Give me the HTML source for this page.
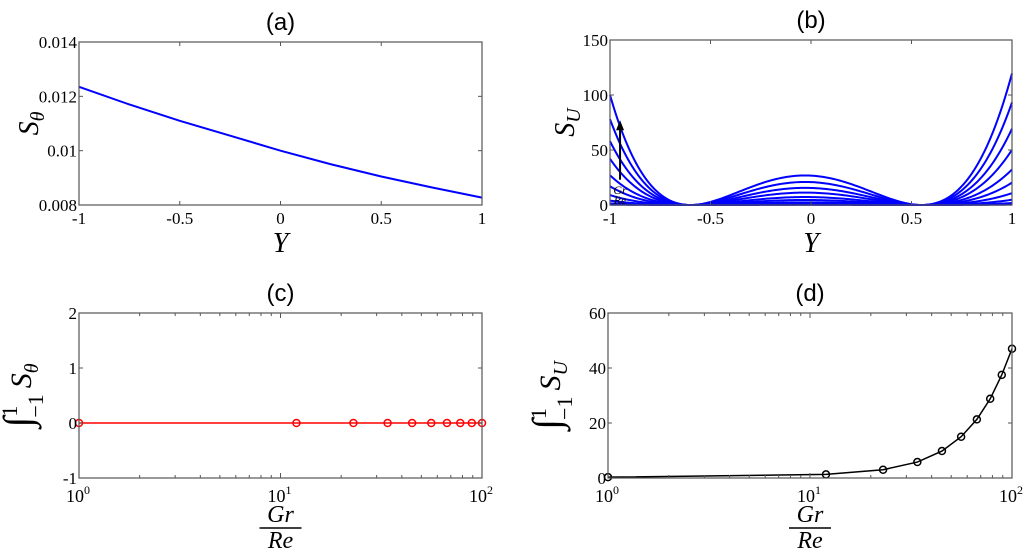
<!DOCTYPE html>
<html><head><meta charset="utf-8"><style>
html,body{margin:0;padding:0;background:#fff;}
svg{display:block;font-family:"Liberation Serif","DejaVu Serif",serif;}
svg text{font-family:"Liberation Serif","DejaVu Serif",serif;fill:#000;}
svg text.t{font-family:"Liberation Sans","DejaVu Sans",sans-serif;font-size:24px;}
svg text.tick{font-size:17px;}
svg text.lab{font-style:italic;font-size:28px;}
</style></head><body>
<svg id="fig" width="1024" height="551" viewBox="0 0 1024 551" font-family="Liberation Serif, serif"></svg>
<script>
// Panel (a) data
const aY = [-1, -0.75, -0.5, -0.25, 0, 0.25, 0.5, 0.75, 1];
const aS = [0.01235, 0.01170, 0.01110, 0.01055, 0.01000, 0.00950, 0.00905, 0.00865, 0.00827];
// Panel (b) data: curve amplitudes (value at Y=-1) for each Gr/Re
const bLeft = [100, 78, 58, 42, 27, 17, 9, 4, 1.5, 0.3];
const bRoots = [-0.6, 0.55];
// Panels (c),(d) data
const grRe = [1, 12, 23, 34, 45, 56, 67, 78, 89, 100];
const cInt = [0, 0, 0, 0, 0, 0, 0, 0, 0, 0];
const dInt = [0.3, 1.3, 3.0, 5.8, 9.8, 15, 21.3, 28.8, 37.5, 47];
const aTicksX = ['-1','-0.5','0','0.5','1'];
const aTicksY = ['0.008','0.01','0.012','0.014'];
const bTicksY = ['0','50','100','150'];
const cTicksY = ['-1','0','1','2'];
const dTicksY = ['0','20','40','60'];

const NS='http://www.w3.org/2000/svg';
const svg=document.getElementById('fig');
const SERIF='"Liberation Serif", serif';
function el(tag,attrs,parent,txt){const e=document.createElementNS(NS,tag);for(const k in attrs)e.setAttribute(k,attrs[k]);if(tag==='text'&&!attrs['font-family'])e.setAttribute('font-family',SERIF);if(txt!==undefined)e.textContent=txt;(parent||svg).appendChild(e);return e;}

function panel(name,L,R,T,B,xmin,xmax,ymin,ymax,logx){
  const g=el('g',{});
  
  
  const sx=v=>logx?L+(Math.log10(v)-Math.log10(xmin))/(Math.log10(xmax)-Math.log10(xmin))*(R-L):L+(v-xmin)/(xmax-xmin)*(R-L);
  const sy=v=>B-(v-ymin)/(ymax-ymin)*(B-T);
  return {g,sx,sy,L,R,T,B};
}
function frame(p){
  const f=el('rect',{x:p.L,y:p.T,width:p.R-p.L,height:p.B-p.T,fill:'none',stroke:'#555','stroke-width':1.2},p.g);
  
  
}
function linTicksX(p,labels){
  labels.forEach(s=>{const v=parseFloat(s),x=p.sx(v);
    el('line',{x1:x,y1:p.B,x2:x,y2:p.B-4,stroke:'#555'},p.g);el('line',{x1:x,y1:p.T,x2:x,y2:p.T+4,stroke:'#555'},p.g);
    const t=el('text',{x:x,y:p.B+19,'text-anchor':'middle',class:'tick'},p.g,s);
    
    });
}
function linTicksY(p,labels){
  labels.forEach(s=>{const v=parseFloat(s),y=p.sy(v);
    el('line',{x1:p.L,y1:y,x2:p.L+4,y2:y,stroke:'#555'},p.g);el('line',{x1:p.R,y1:y,x2:p.R-4,y2:y,stroke:'#555'},p.g);
    const t=el('text',{x:p.L-2,y:y+6,'text-anchor':'end',class:'tick'},p.g,s);
    
    });
}
function logTicksX(p){
  for(let d=0;d<2;d++)for(let k=2;k<=9;k++){const x=p.sx(k*Math.pow(10,d));
    el('line',{x1:x,y1:p.B,x2:x,y2:p.B-3,stroke:'#555'},p.g);el('line',{x1:x,y1:p.T,x2:x,y2:p.T+3,stroke:'#555'},p.g);}
  [0,1,2].forEach(e=>{const x=p.sx(Math.pow(10,e));
    el('line',{x1:x,y1:p.B,x2:x,y2:p.B-5,stroke:'#555'},p.g);el('line',{x1:x,y1:p.T,x2:x,y2:p.T+5,stroke:'#555'},p.g);
    const t=el('text',{x:x-1,y:p.B+24,'text-anchor':'middle',class:'tick',style:'font-size:18px'},p.g);
    
    
    el('tspan',{},t,'10');el('tspan',{dy:-8,style:'font-size:12px'},t,String(e));});
}
function title(p,s){const t=el('text',{x:(p.L+p.R)/2,y:p.T-12,'text-anchor':'middle',class:'t','font-family':'"Liberation Sans", sans-serif'},p.g,s);
  
  }
function fracLabel(p){
  const cx=(p.L+p.R)/2;
  const g=el('g',{},p.g);
  
  
  el('text',{x:cx,y:p.B+44,'text-anchor':'middle',class:'lab',style:'font-size:24px'},g,'Gr');
  el('line',{x1:cx-21,y1:p.B+50,x2:cx+21,y2:p.B+50,stroke:'#000','stroke-width':1.5},g);
  el('text',{x:cx,y:p.B+70,'text-anchor':'middle',class:'lab',style:'font-size:24px'},g,'Re');
}
function intLabel(p,sub){
  const x=p.L-48,y=(p.T+p.B)/2;
  const t=el('text',{transform:`translate(${x},${y}) rotate(-90)`,'text-anchor':'middle',style:'font-size:30px'},p.g);
  
  
  el('tspan',{style:'font-size:40px'},t,'∫');
  el('tspan',{dy:-14,style:'font-size:22px'},t,'1');
  el('tspan',{dx:-12,dy:26,style:'font-size:22px'},t,'−1');
  el('tspan',{dy:-12,dx:6,style:'font-style:italic'},t,'S');
  el('tspan',{dy:7,style:'font-style:italic;font-size:20px'},t,sub);
}
function sLabel(p,sub,x){
  const y=(p.T+p.B)/2;
  const t=el('text',{transform:`translate(${x},${y}) rotate(-90)`,'text-anchor':'middle',class:'lab'},p.g);
  
  
  el('tspan',{},t,'S');el('tspan',{dy:6,style:'font-size:20px'},t,sub);
}
function yLabel(p){const t=el('text',{x:(p.L+p.R)/2,y:p.B+47,'text-anchor':'middle',class:'lab'},p.g,'Y');
  
  }

// (a)
const pa=panel('panel-a',79,482,42,205,-1,1,0.008,0.014,false);
title(pa,'(a)');
const la=el('polyline',{fill:'none',stroke:'#0000ff','stroke-width':2,points:aY.map((y,i)=>pa.sx(y)+','+pa.sy(aS[i])).join(' ')},pa.g);


frame(pa);linTicksX(pa,aTicksX);linTicksY(pa,aTicksY);yLabel(pa);sLabel(pa,'θ',38);

// (b)
const pb=panel('panel-b',610,1012,40,205,-1,1,0,150,false);
title(pb,'(b)');
const shape=Y=>{const g=(Y-bRoots[0])*(Y-bRoots[1])*(1-0.03*Y);return g*g;};
const s0=shape(-1);
bLeft.forEach((a,i)=>{
  const pts=[];for(let k=0;k<=200;k++){const Y=-1+k/100;pts.push(pb.sx(Y)+','+pb.sy(Math.min(150,a*shape(Y)/s0)));}
  const pl=el('polyline',{fill:'none',stroke:'#0000ff','stroke-width':2,points:pts.join(' ')},pb.g);
  
  
});
frame(pb);linTicksX(pb,aTicksX);linTicksY(pb,bTicksY);yLabel(pb);sLabel(pb,'U',574);
const ag=el('g',{},pb.g);


const axp=pb.sx(-0.95);
el('line',{x1:axp,y1:pb.sy(23),x2:axp,y2:pb.sy(70),stroke:'#000','stroke-width':2},ag);
el('polygon',{points:`${axp-4},${pb.sy(68)} ${axp+4},${pb.sy(68)} ${axp},${pb.sy(77)}`,fill:'#000'},ag);
el('text',{x:axp,y:pb.sy(10),'text-anchor':'middle',style:'font-size:12px;font-style:italic'},ag,'Gr');
el('text',{x:axp,y:pb.sy(1),'text-anchor':'middle',style:'font-size:12px;font-style:italic'},ag,'Re');

// (c)
const pc=panel('panel-c',79,482,313,478,1,100,-1,2,true);
title(pc,'(c)');
const lc=el('polyline',{fill:'none',stroke:'#ff0000','stroke-width':1.5,points:grRe.map((x,i)=>pc.sx(x)+','+pc.sy(cInt[i])).join(' ')},pc.g);


grRe.forEach((x,i)=>{const c=el('circle',{cx:pc.sx(x),cy:pc.sy(cInt[i]),r:3.5,fill:'none',stroke:'#ff0000','stroke-width':1.5},pc.g);
  
  });
frame(pc);logTicksX(pc);linTicksY(pc,cTicksY);fracLabel(pc);intLabel(pc,'θ');

// (d)
const pd=panel('panel-d',608,1012,313,478,1,100,0,60,true);
title(pd,'(d)');
const ld=el('polyline',{fill:'none',stroke:'#000','stroke-width':1.5,points:grRe.map((x,i)=>pd.sx(x)+','+pd.sy(dInt[i])).join(' ')},pd.g);


grRe.forEach((x,i)=>{const c=el('circle',{cx:pd.sx(x),cy:pd.sy(dInt[i]),r:3.5,fill:'none',stroke:'#000','stroke-width':1.5},pd.g);
  
  });
frame(pd);logTicksX(pd);linTicksY(pd,dTicksY);fracLabel(pd);intLabel(pd,'U');
</script>
</body></html>
